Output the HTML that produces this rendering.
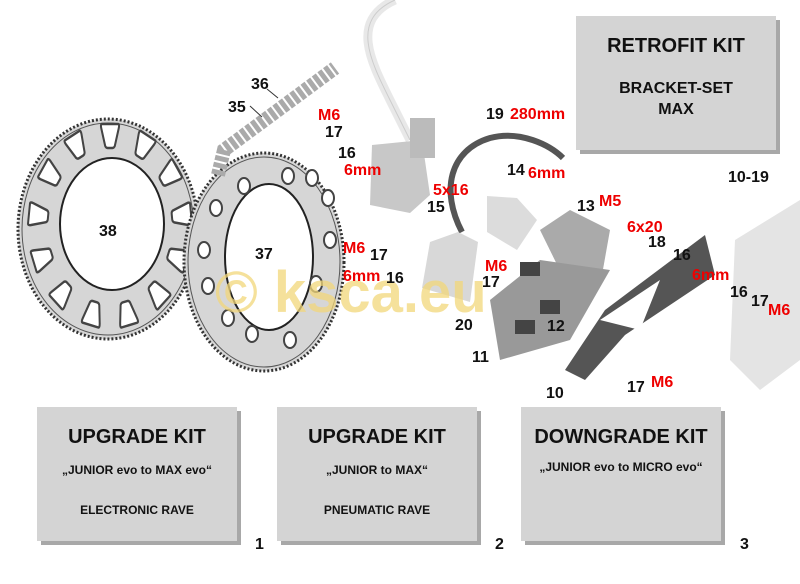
<!DOCTYPE html>
<html><head><meta charset="utf-8"><style>
html,body{margin:0;padding:0;background:#fff}
svg{display:block}
text{font-family:"Liberation Sans",sans-serif;font-weight:bold}
.n{font-size:16px;fill:#111}
.r{font-size:16px;fill:#e00}
.bt{font-size:20px;fill:#111}
.st{font-size:12px;fill:#111}
</style></head><body>
<svg width="800" height="584" viewBox="0 0 800 584" xmlns="http://www.w3.org/2000/svg">
<defs>
<g id="box"><rect x="4" y="4" width="200" height="134" fill="#a8a8a8"/><rect x="0" y="0" width="200" height="134" fill="#d4d4d4"/></g>
<path id="win" d="M-10 -12 L10 -12 Q12 -12 11 -8 L6 10 Q5 12 3 12 L-3 12 Q-5 12 -6 10 L-11 -8 Q-12 -12 -10 -12 z" fill="#fff" stroke="#444" stroke-width="2.5"/>
</defs>
<!-- sprocket 38 -->
<ellipse cx="108" cy="229" rx="90" ry="110" fill="#d6d6d6" stroke="#333" stroke-width="3" stroke-dasharray="2 2"/>
<ellipse cx="108" cy="229" rx="86" ry="106" fill="#d6d6d6" stroke="#555" stroke-width="1"/>
<ellipse cx="112" cy="224" rx="52" ry="66" fill="#fff" stroke="#222" stroke-width="2"/>
<g transform="translate(110 226) scale(0.8 1)">
<g transform="rotate(0) translate(0 -90)"><use href="#win"/></g>
<g transform="rotate(27.7) translate(0 -90)"><use href="#win"/></g>
<g transform="rotate(55.4) translate(0 -90)"><use href="#win"/></g>
<g transform="rotate(83.1) translate(0 -90)"><use href="#win"/></g>
<g transform="rotate(110.8) translate(0 -90)"><use href="#win"/></g>
<g transform="rotate(138.5) translate(0 -90)"><use href="#win"/></g>
<g transform="rotate(166.2) translate(0 -90)"><use href="#win"/></g>
<g transform="rotate(193.9) translate(0 -90)"><use href="#win"/></g>
<g transform="rotate(221.6) translate(0 -90)"><use href="#win"/></g>
<g transform="rotate(249.3) translate(0 -90)"><use href="#win"/></g>
<g transform="rotate(277) translate(0 -90)"><use href="#win"/></g>
<g transform="rotate(304.7) translate(0 -90)"><use href="#win"/></g>
<g transform="rotate(332.4) translate(0 -90)"><use href="#win"/></g>
</g>
<!-- sprocket 37 -->
<ellipse cx="264" cy="262" rx="80" ry="109" fill="#d6d6d6" stroke="#333" stroke-width="3" stroke-dasharray="2 2"/>
<ellipse cx="264" cy="262" rx="76" ry="105" fill="#d6d6d6" stroke="#555" stroke-width="1"/>
<ellipse cx="269" cy="257" rx="44" ry="73" fill="#fff" stroke="#222" stroke-width="2"/>
<g fill="#fff" stroke="#444" stroke-width="2">
<ellipse cx="288" cy="176" rx="6" ry="8"/><ellipse cx="312" cy="178" rx="6" ry="8"/><ellipse cx="328" cy="198" rx="6" ry="8"/>
<ellipse cx="330" cy="240" rx="6" ry="8"/><ellipse cx="316" cy="284" rx="6" ry="8"/><ellipse cx="290" cy="340" rx="6" ry="8"/>
<ellipse cx="252" cy="334" rx="6" ry="8"/><ellipse cx="228" cy="318" rx="6" ry="8"/><ellipse cx="208" cy="286" rx="6" ry="8"/>
<ellipse cx="204" cy="250" rx="6" ry="8"/><ellipse cx="216" cy="208" rx="6" ry="8"/><ellipse cx="244" cy="186" rx="6" ry="8"/>
</g>
<!-- chain -->
<path d="M218 175 L224 150 L335 68" stroke="#aaa" stroke-width="14" fill="none" stroke-dasharray="5 2"/>
<line x1="267" y1="89" x2="278" y2="98" stroke="#333"/><line x1="250" y1="106" x2="262" y2="117" stroke="#333"/>
<!-- hose/cable -->
<path d="M395 0 C 350 20 370 60 390 100 L410 140" stroke="#e8e8e8" stroke-width="9" fill="none"/>
<path d="M395 0 C 350 20 370 60 390 100 L410 140" stroke="#ccc" stroke-width="1" fill="none"/>
<!-- valve block -->
<path d="M372 145 l50 -5 l8 55 l-20 18 l-40 -8 z" fill="#c8c8c8"/>
<rect x="410" y="118" width="25" height="40" fill="#bbb"/>
<!-- hose 19 -->
<path d="M462 232 C 440 190 450 150 490 138 C 520 130 550 145 563 158" stroke="#555" stroke-width="6" fill="none"/>
<!-- grey parts -->
<path d="M430 242 l28 -10 l20 10 l-8 60 l-48 -14 z" fill="#d8d8d8"/>
<path d="M487 196 l30 2 l20 22 l-20 30 l-30 -18 z" fill="#dcdcdc"/>
<path d="M540 230 l30 -20 l40 20 l-8 45 l-30 20 z" fill="#aaa"/>
<path d="M490 300 l50 -40 l70 10 l-40 70 l-70 20 z" fill="#999"/>
<path d="M565 370 l40 -60 l100 -75 l10 40 l-90 60 l-40 45 z" fill="#555"/>
<path d="M600 320 l60 -40 l-20 50 z" fill="#fff"/>
<rect x="520" y="262" width="20" height="14" fill="#444"/><rect x="540" y="300" width="20" height="14" fill="#444"/><rect x="515" y="320" width="20" height="14" fill="#444"/>
<!-- engine right -->
<path d="M735 240 l65 -40 l0 160 l-40 30 l-30 -30 z" fill="#e4e4e4"/>
<!-- watermark -->
<text x="215" y="312" style="font-size:58px;fill:#f2d77a;opacity:.75">© ksca.eu</text>
<!-- boxes -->
<g transform="translate(576,16)"><use href="#box"/></g>
<g transform="translate(37,407)"><use href="#box"/></g>
<g transform="translate(277,407)"><use href="#box"/></g>
<g transform="translate(521,407)"><use href="#box"/></g>
<text class="bt" x="676" y="52" text-anchor="middle">RETROFIT KIT</text>
<text class="n" x="676" y="93" text-anchor="middle">BRACKET-SET</text>
<text class="n" x="676" y="114" text-anchor="middle">MAX</text>
<text class="bt" x="137" y="443" text-anchor="middle">UPGRADE KIT</text>
<text class="st" x="137" y="474" text-anchor="middle">„JUNIOR evo to MAX evo“</text>
<text class="st" x="137" y="514" text-anchor="middle">ELECTRONIC RAVE</text>
<text class="bt" x="377" y="443" text-anchor="middle">UPGRADE KIT</text>
<text class="st" x="377" y="474" text-anchor="middle">„JUNIOR to MAX“</text>
<text class="st" x="377" y="514" text-anchor="middle">PNEUMATIC RAVE</text>
<text class="bt" x="621" y="443" text-anchor="middle">DOWNGRADE KIT</text>
<text class="st" x="621" y="471" text-anchor="middle">„JUNIOR evo to MICRO evo“</text>
<text class="n" x="255" y="549">1</text><text class="n" x="495" y="549">2</text><text class="n" x="740" y="549">3</text>
<!-- labels -->
<text class="n" x="99" y="236">38</text><text class="n" x="255" y="259">37</text>
<text class="n" x="251" y="89">36</text><text class="n" x="228" y="112">35</text>
<text class="r" x="318" y="120">M6</text><text class="n" x="325" y="137">17</text><text class="n" x="338" y="158">16</text><text class="r" x="344" y="175">6mm</text>
<text class="r" x="343" y="253">M6</text><text class="n" x="370" y="260">17</text><text class="r" x="343" y="281">6mm</text><text class="n" x="386" y="283">16</text>
<text class="n" x="486" y="119">19</text><text class="r" x="510" y="119">280mm</text>
<text class="n" x="507" y="175">14</text><text class="r" x="528" y="178">6mm</text>
<text class="r" x="433" y="195">5x16</text><text class="n" x="427" y="212">15</text>
<text class="n" x="577" y="211">13</text><text class="r" x="599" y="206">M5</text>
<text class="r" x="627" y="232">6x20</text><text class="n" x="648" y="247">18</text><text class="n" x="673" y="260">16</text><text class="r" x="692" y="280">6mm</text>
<text class="n" x="728" y="182">10-19</text>
<text class="r" x="485" y="271">M6</text><text class="n" x="482" y="287">17</text>
<text class="n" x="455" y="330">20</text><text class="n" x="547" y="331">12</text><text class="n" x="472" y="362">11</text>
<text class="n" x="546" y="398">10</text><text class="n" x="627" y="392">17</text><text class="r" x="651" y="387">M6</text>
<text class="n" x="730" y="297">16</text><text class="n" x="751" y="306">17</text><text class="r" x="768" y="315">M6</text>
</svg>
</body></html>
